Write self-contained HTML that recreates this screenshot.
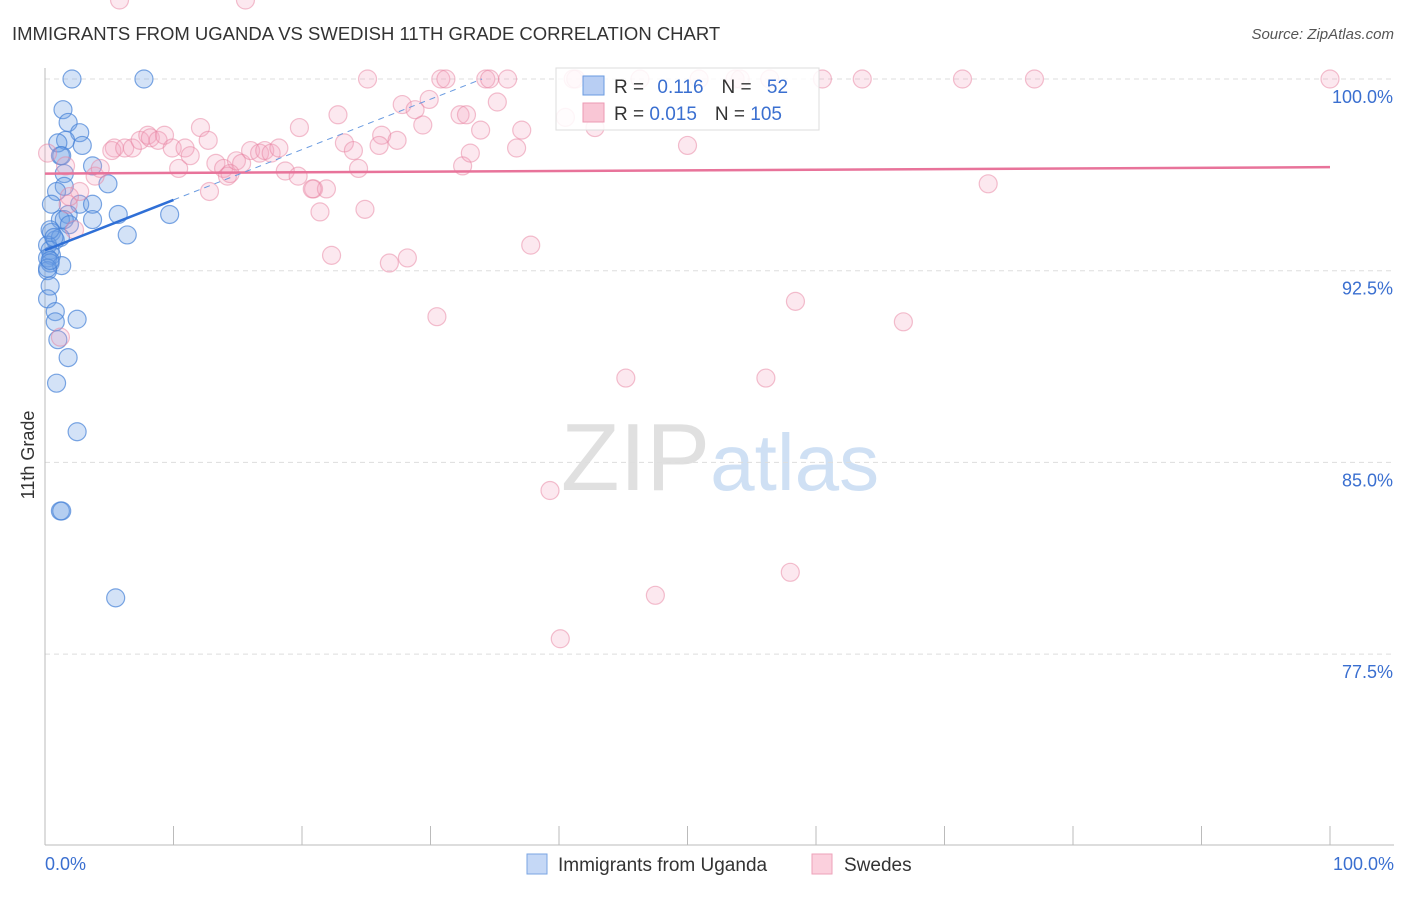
<!DOCTYPE html>
<html><head><meta charset="utf-8"><style>
body{margin:0;background:#fff;font-family:"Liberation Sans",sans-serif;}
svg text{font-family:"Liberation Sans",sans-serif;}
</style></head><body>
<svg id="chart" width="1406" height="892" viewBox="0 0 1406 892" xmlns="http://www.w3.org/2000/svg">
<text x="12" y="40" font-size="18.5" fill="#333">IMMIGRANTS FROM UGANDA VS SWEDISH 11TH GRADE CORRELATION CHART</text>
<text x="1394" y="39" font-size="15" fill="#555" text-anchor="end" font-style="italic">Source: ZipAtlas.com</text>
<text x="720" y="490" font-size="96" text-anchor="middle" fill="#e0e0e0" font-family="Liberation Serif">ZIP<tspan fill="#cfe0f4" font-family="Liberation Sans" font-size="80">atlas</tspan></text>
<g id="grid"></g>
<g id="axes"></g>
<g id="blue"></g>
<g id="pink"></g>
<g id="trend"></g>
<g>
<rect x="556" y="68" width="263" height="62" fill="#fff" fill-opacity="0.85" stroke="#ddd"/>
<rect x="583" y="76" width="21" height="19" fill="#b8cef3" stroke="#6a9be0"/>
<rect x="583" y="103" width="21" height="19" fill="#f9c6d5" stroke="#ec9ab3"/>
<text x="614" y="93" font-size="19" fill="#333">R = <tspan fill="#3a6fd0" dx="8">0.116</tspan><tspan fill="#333" dx="18">N = </tspan><tspan fill="#3a6fd0" dx="10">52</tspan></text>
<text x="614" y="120" font-size="19" fill="#333">R = <tspan fill="#3a6fd0">0.015</tspan><tspan fill="#333" dx="18">N = </tspan><tspan fill="#3a6fd0">105</tspan></text>
</g>
<g>
<rect x="527" y="854" width="20" height="20" fill="#c5d8f6" stroke="#7aa5e3"/>
<text x="558" y="871" font-size="19" fill="#333">Immigrants from Uganda</text>
<rect x="812" y="854" width="20" height="20" fill="#fbd0dd" stroke="#eea2b9"/>
<text x="844" y="871" font-size="19" fill="#333">Swedes</text>
</g>
<text transform="translate(34,455) rotate(-90)" font-size="18" fill="#333" text-anchor="middle">11th Grade</text>
</svg>
<script>
const ns="http://www.w3.org/2000/svg";
const yTicks=[100,92.5,85,77.5];
const yTickLabels=["100.0%","92.5%","85.0%","77.5%"];
const xLabels=["0.0%","100.0%"];
const ugandaX=[2.1,7.7,1.4,1.8,2.7,1.6,2.9,1.0,1.2,1.3,3.7,1.5,1.5,4.9,0.9,0.5,2.7,3.7,1.8,3.7,5.7,9.7,1.2,1.5,1.9,6.4,0.5,0.8,0.2,1.2,0.4,0.5,0.2,0.4,1.3,0.2,0.4,0.2,0.8,0.8,2.5,1.0,1.8,0.9,2.5,1.2,1.3,5.5,0.4,0.7,0.2,0.4];
const ugandaY=[100,100,98.8,98.3,97.9,97.6,97.4,97.5,97.0,97.0,96.6,96.3,95.8,95.9,95.6,95.1,95.1,95.1,94.7,94.5,94.7,94.7,94.5,94.5,94.3,93.9,94.0,93.7,93.5,93.8,93.3,93.1,93.0,92.8,92.7,92.5,91.9,91.4,90.9,90.5,90.6,89.8,89.1,88.1,86.2,83.1,83.1,79.7,94.1,93.8,92.6,92.9];
const swedesX=[25.1,30.8,31.2,34.3,34.6,36.0,41.1,41.3,46.3,50.9,53.7,54.1,56.4,60.5,63.6,71.4,77.0,100,40.5,22.8,27.8,29.9,32.3,32.8,35.2,28.8,19.8,26.2,29.4,33.9,37.1,42.8,50.0,36.7,23.3,26.0,27.4,24.0,24.4,32.5,20.9,21.9,21.4,20.8,24.9,26.8,28.2,22.3,37.8,58.4,66.8,30.5,45.2,56.1,39.3,58.0,47.5,40.1,73.4,33.1,5.4,3.9,4.3,5.2,6.2,6.8,7.4,8.0,8.2,8.8,9.3,9.9,10.4,10.9,11.3,12.1,12.7,13.3,13.9,14.2,14.9,15.3,16.0,16.7,17.1,17.6,18.2,18.7,19.7,2.7,2.3,1.8,1.9,1.2,1.6,0.2,14.4,12.8,15.6,5.8];
const swedesY=[100,100,100,100,100,100,100,100,100,100,100,100,100,100,100,100,100,100,98.5,98.6,99.0,99.2,98.6,98.6,99.1,98.8,98.1,97.8,98.2,98.0,98.0,98.1,97.4,97.3,97.5,97.4,97.6,97.2,96.5,96.6,95.7,95.7,94.8,95.7,94.9,92.8,93.0,93.1,93.5,91.3,90.5,90.7,88.3,88.3,83.9,80.7,79.8,78.1,95.9,97.1,97.3,96.2,96.5,97.2,97.3,97.3,97.6,97.8,97.7,97.6,97.8,97.3,96.5,97.3,97.0,98.1,97.6,96.7,96.5,96.2,96.8,96.7,97.2,97.1,97.2,97.1,97.3,96.4,96.2,95.6,94.1,95.1,95.4,89.9,96.6,97.1,96.3,95.6];
const swedesTrend=[96.3,96.55];
const ugandaTrend=[93.3,95.27];
const X0=45,X1=1330,YTOP=79,PER=191.7/7.5,YBOT=845;
function sx(v){return X0+(X1-X0)*v/100;}
function sy(v){return YTOP+(100-v)*PER;}
function el(t,a,p){const e=document.createElementNS(ns,t);for(const k in a)e.setAttribute(k,a[k]);p.appendChild(e);return e;}
const grid=document.getElementById('grid'),axes=document.getElementById('axes');
yTicks.forEach((t,i)=>{
 const l=el('line',{x1:X0,x2:1394,y1:sy(t),y2:sy(t),stroke:'#ddd','stroke-dasharray':'5,4'},grid);
 
 
 const tx=el('text',{x:1393,y:sy(t)+24,'font-size':18,fill:'#3a6fd0','text-anchor':'end'},axes);
 tx.textContent=yTickLabels[i];
 
 
});
el('line',{x1:X0,x2:X0,y1:68,y2:YBOT,stroke:'#bbb'},axes);
el('line',{x1:X0,x2:1394,y1:YBOT,y2:YBOT,stroke:'#bbb'},axes);
for(let i=0;i<=10;i++){const t=el('line',{x1:sx(i*10),x2:sx(i*10),y1:826,y2:YBOT,stroke:'#bbb'},axes);
 
 }
const xl0=el('text',{x:45,y:870,'font-size':18,fill:'#3a6fd0'},axes);xl0.textContent=xLabels[0];


const xl1=el('text',{x:1394,y:870,'font-size':18,fill:'#3a6fd0','text-anchor':'end'},axes);xl1.textContent=xLabels[1];


function dots(xs,ys,g,fill,stroke,name){xs.forEach((x,i)=>{const c=el('circle',{cx:sx(x),cy:sy(ys[i]),r:9,fill:fill,stroke:stroke,'stroke-width':1.2},g);
 
 });}
dots(swedesX,swedesY,document.getElementById('pink'),'rgba(244,165,190,0.25)','rgba(232,130,160,0.5)','swedes-point');
dots(ugandaX,ugandaY,document.getElementById('blue'),'rgba(110,160,230,0.3)','rgba(70,130,215,0.7)','uganda-point');
const tr=document.getElementById('trend');
const pl=el('line',{x1:sx(0),y1:sy(swedesTrend[0]),x2:sx(100),y2:sy(swedesTrend[1]),stroke:'#e8739a','stroke-width':2.5},tr);


const bb=(ugandaTrend[1]-ugandaTrend[0])/10, ba=ugandaTrend[0];
const bl=el('line',{x1:sx(0),y1:sy(ba),x2:sx(10),y2:sy(ba+bb*10),stroke:'#2f6fd6','stroke-width':2.5},tr);


const xe=Math.min(100,(100-ba)/bb);
const bd=el('line',{x1:sx(10),y1:sy(ba+bb*10),x2:sx(xe),y2:sy(ba+bb*xe),stroke:'#6a9be0','stroke-width':1,'stroke-dasharray':'6,5'},tr);


</script>
</body></html>
